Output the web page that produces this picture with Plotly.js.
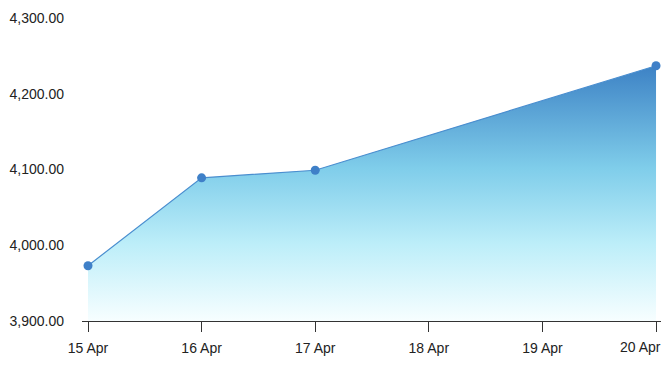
<!DOCTYPE html>
<html>
<head>
<meta charset="utf-8">
<script src="https://cdn.plot.ly/plotly-3.0.1.min.js"></script>
<style>html,body{margin:0;padding:0;background:#fff}#chart{width:670px;height:370px}</style>
</head>
<body>
<div id="chart"></div>
<script>
var dates = ['2024-04-15', '2024-04-16', '2024-04-17', '2024-04-20'];
var values = [3973, 4089, 4099, 4237];
var tickDates = ['2024-04-15', '2024-04-16', '2024-04-17', '2024-04-18', '2024-04-19', '2024-04-20'];
var tickLabels = ['15 Apr', '16 Apr', '17 Apr', '18 Apr', '19 Apr', '20 Apr'];
var yTicks = [3900, 4000, 4100, 4200, 4300];

var lastIdx = tickLabels.length - 1;
// the last label is drawn right-aligned to its tick (kept inside the chart edge, as in the reference)
var shownLabels = tickLabels.map(function (t, i) { return i === lastIdx ? '' : t; });

var trace = {
  x: dates,
  y: values,
  type: 'scatter',
  mode: 'lines+markers',
  fill: 'tozeroy',
  fillgradient: {
    type: 'vertical',
    start: 3900,
    stop: Math.max.apply(null, values),
    colorscale: [[0, '#f7feff'], [0.3, '#bdeef9'], [0.6, '#7fcdea'], [1, '#3d82c5']]
  },
  line: {color: '#4a8ecf', width: 1.2},
  marker: {color: '#3f80c8', size: 9},
  hoverinfo: 'x+y'
};

var layout = {
  width: 670, height: 370,
  margin: {l: 82, r: 9, t: 18, b: 49},
  paper_bgcolor: '#fff', plot_bgcolor: '#fff',
  showlegend: false,
  font: {family: 'Liberation Sans, Arial, sans-serif', size: 14, color: '#222'},
  xaxis: {
    type: 'date',
    range: ['2024-04-14 22:44', '2024-04-20 01:03'],
    tickvals: tickDates,
    ticktext: shownLabels,
    ticks: 'outside', ticklen: 10, tickcolor: '#333', tickwidth: 1,
    showline: true, linecolor: '#333', linewidth: 1,
    showgrid: false, zeroline: false,
    ticklabelstandoff: 4,
    tickfont: {size: 14, color: '#222'}
  },
  yaxis: {
    range: [3900, 4300],
    tickvals: yTicks,
    tickformat: ',.2f',
    showgrid: false, zeroline: false, showline: false,
    ticks: '', ticklabelstandoff: 17,
    tickfont: {size: 14, color: '#222'}
  },
  annotations: [{
    x: tickDates[lastIdx], xref: 'x',
    y: 0, yref: 'paper',
    text: tickLabels[lastIdx],
    showarrow: false,
    xanchor: 'right', yanchor: 'middle',
    xshift: 7, yshift: -26,
    font: {size: 14, color: '#222'}
  }]
};

Plotly.newPlot('chart', [trace], layout, {displayModeBar: false, staticPlot: true});
</script>
</body>
</html>
